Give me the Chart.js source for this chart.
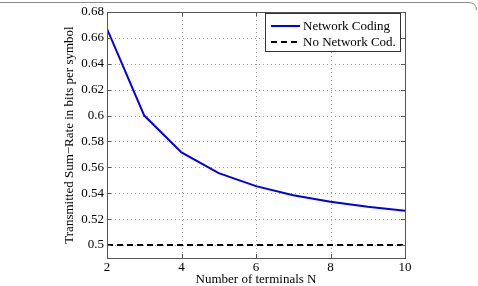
<!DOCTYPE html>
<html>
<head>
<meta charset="utf-8">
<script src="https://cdn.jsdelivr.net/npm/chart.js@4"></script>
<style>
  html, body { margin: 0; padding: 0; background: #fff; }
  #wrap { width: 478px; height: 286px; position: relative; }
</style>
</head>
<body>
<div id="wrap"><canvas id="c" width="478" height="286"></canvas></div>
<script>
const terminals = [2, 3, 4, 5, 6, 7, 8, 9, 10];
const networkCoding = [0.667, 0.600, 0.5715, 0.5555, 0.5455, 0.5385, 0.5335, 0.5295, 0.5265];
const noNetworkCoding = [0.5, 0.5, 0.5, 0.5, 0.5, 0.5, 0.5, 0.5, 0.5];
const xTicks = [2, 4, 6, 8, 10];
const yTicks = [0.5, 0.52, 0.54, 0.56, 0.58, 0.6, 0.62, 0.64, 0.66, 0.68];
const seriesNames = ['Network Coding', 'No Network Cod.'];
const xTitle = 'Number of terminals N';
const yTitle = 'Transmitted Sum\u2212Rate in bits per symbol';

const FONT = 'Liberation Serif';

const gridPlugin = {
  id: 'dottedGrid',
  beforeDatasetsDraw(chart) {
    const ctx = chart.ctx;
    const a = chart.chartArea;
    const xs = chart.scales.x, ys = chart.scales.y;
    ctx.save();
    ctx.strokeStyle = '#9a9a9a';
    ctx.lineWidth = 1;
    ctx.setLineDash([1, 3]);
    ctx.beginPath();
    xTicks.forEach(v => {
      const px = Math.round(xs.getPixelForValue(v)) + 0.5;
      ctx.moveTo(px, a.top); ctx.lineTo(px, a.bottom);
    });
    yTicks.forEach(v => {
      const py = Math.round(ys.getPixelForValue(v)) + 0.5;
      ctx.moveTo(a.left, py); ctx.lineTo(a.right, py);
    });
    ctx.stroke();
    ctx.restore();
  }
};

const framePlugin = {
  id: 'frame',
  afterDraw(chart) {
    const ctx = chart.ctx;
    const a = chart.chartArea;
    ctx.save();
    ctx.strokeStyle = '#8a8a8a';
    ctx.lineWidth = 1;
    ctx.beginPath();
    ctx.moveTo(0, 2.5);
    ctx.lineTo(468, 2.5);
    ctx.quadraticCurveTo(476.5, 2.5, 476.5, 10);
    ctx.stroke();
    ctx.strokeStyle = '#555';
    ctx.lineWidth = 1;
    ctx.strokeRect(Math.round(a.left) + 0.5, Math.round(a.top) + 0.5,
                   Math.round(a.right - a.left), Math.round(a.bottom - a.top));
    const xs = chart.scales.x, ys = chart.scales.y;
    const tl = 4;
    ctx.beginPath();
    xTicks.forEach(v => {
      const px = Math.round(xs.getPixelForValue(v)) + 0.5;
      ctx.moveTo(px, a.bottom); ctx.lineTo(px, a.bottom - tl);
      ctx.moveTo(px, a.top); ctx.lineTo(px, a.top + tl);
    });
    yTicks.forEach(v => {
      const py = Math.round(ys.getPixelForValue(v)) + 0.5;
      ctx.moveTo(a.left, py); ctx.lineTo(a.left + tl, py);
      ctx.moveTo(a.right, py); ctx.lineTo(a.right - tl, py);
    });
    ctx.stroke();
    const lx = 265.5, ly = 13.5, lw = 135, lh = 38;
    ctx.fillStyle = '#fff';
    ctx.fillRect(lx, ly, lw, lh);
    ctx.strokeStyle = '#333';
    ctx.strokeRect(lx, ly, lw, lh);
    const rows = [26, 42];
    chart.data.datasets.forEach((ds, i) => {
      ctx.beginPath();
      ctx.strokeStyle = ds.borderColor;
      ctx.lineWidth = ds.borderWidth;
      ctx.setLineDash(ds.borderDash || []);
      ctx.moveTo(271, rows[i]);
      ctx.lineTo(300, rows[i]);
      ctx.stroke();
      ctx.setLineDash([]);
      ctx.fillStyle = '#000';
      ctx.font = '13px "' + FONT + '"';
      ctx.textBaseline = 'middle';
      ctx.textAlign = 'left';
      ctx.fillText(ds.label, 303, rows[i] + 0.5);
    });
    ctx.restore();
  }
};

new Chart(document.getElementById('c'), {
  type: 'line',
  data: {
    datasets: [
      {
        label: seriesNames[0],
        data: terminals.map((x, i) => ({ x: x, y: networkCoding[i] })),
        borderColor: '#0000e0',
        borderWidth: 2,
        pointRadius: 0,
        tension: 0,
        fill: false
      },
      {
        label: seriesNames[1],
        data: terminals.map((x, i) => ({ x: x, y: noNetworkCoding[i] })),
        borderColor: '#000',
        borderWidth: 2,
        borderDash: [6, 4],
        pointRadius: 0,
        tension: 0,
        fill: false
      }
    ]
  },
  options: {
    responsive: false,
    animation: false,
    devicePixelRatio: 1,
    layout: { padding: { top: 12, right: 73, left: 0, bottom: 0 } },
    plugins: { legend: { display: false }, tooltip: { enabled: false } },
    scales: {
      x: {
        type: 'linear',
        min: 2, max: 10,
        afterBuildTicks(s) { s.ticks = xTicks.map(v => ({ value: v })); },
        afterFit(s) { s.height = 28; },
        ticks: {
          color: '#000', padding: 2,
          font: { family: FONT, size: 13 },
          maxRotation: 0,
          callback: v => String(v)
        },
        grid: { display: false, drawTicks: false },
        border: { display: false },
        title: {
          display: true, text: xTitle, color: '#000',
          font: { family: FONT, size: 13, lineHeight: 1 },
          padding: 0
        }
      },
      y: {
        type: 'linear',
        min: 0.49, max: 0.68,
        afterBuildTicks(s) { s.ticks = yTicks.map(v => ({ value: v })); },
        afterFit(s) { s.width = 107; },
        ticks: {
          color: '#000', padding: 3,
          font: { family: FONT, size: 13 },
          callback: v => String(Math.round(v * 100) / 100)
        },
        grid: { display: false, drawTicks: false },
        border: { display: false },
        title: {
          display: true, text: yTitle, color: '#000',
          font: { family: FONT, size: 13, lineHeight: 1.2 },
          padding: { top: 62, bottom: 0 }
        }
      }
    }
  },
  plugins: [gridPlugin, framePlugin]
});
</script>
</body>
</html>
